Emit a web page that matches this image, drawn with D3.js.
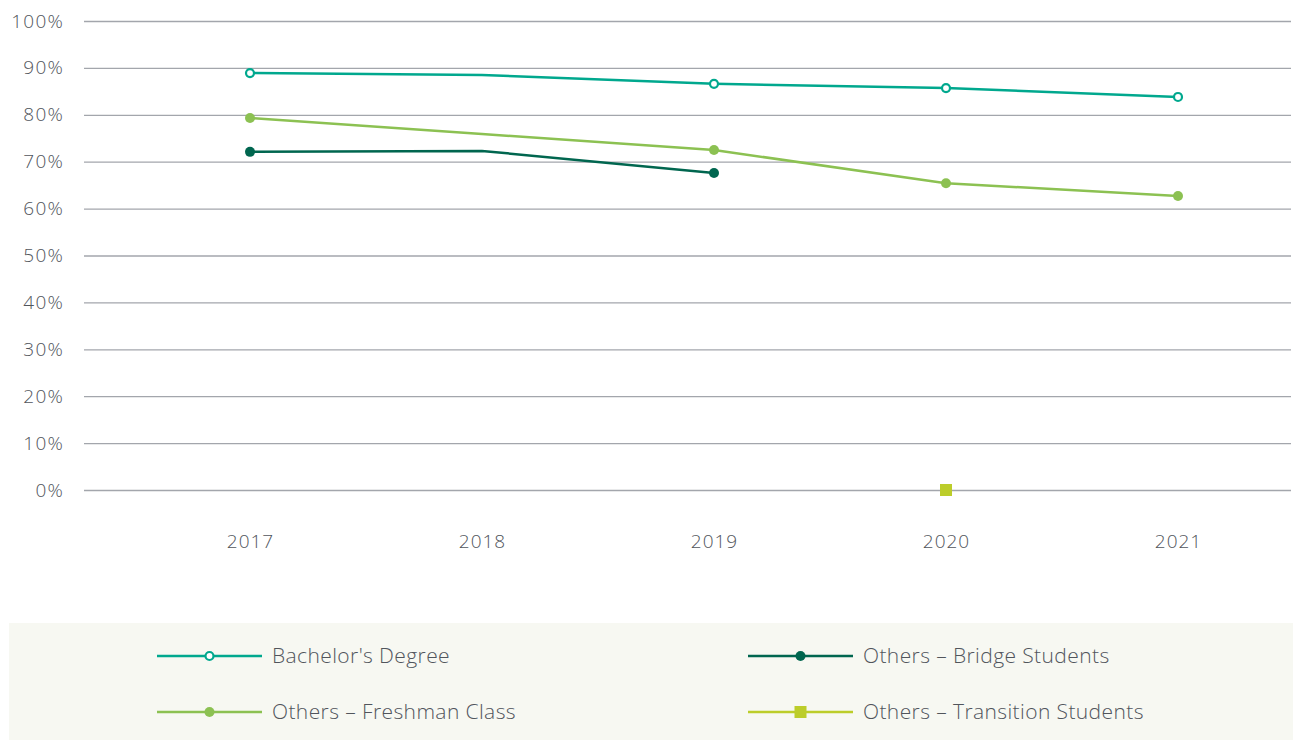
<!DOCTYPE html>
<html><head><meta charset="utf-8">
<script src="https://cdn.jsdelivr.net/npm/d3@7"></script>
<style>
body{margin:0;background:#fff;}
text{font-family:"Open Sans",Lato,sans-serif;font-weight:300;fill:#51555c;}
</style></head>
<body><svg id="c" width="1293" height="740"></svg>
<script>
const years = ["2017","2018","2019","2020","2021"];
const yTicks = [0,10,20,30,40,50,60,70,80,90,100];
const markerlessYears = ["2018"];
const bachelors = [88.9, 88.5, 86.6, 85.7, 83.8];
const bridge = [72.1, 72.3, 67.6, null, null];
const freshman = [79.3, 75.9, 72.5, 65.4, 62.7];
const transition = [null, null, null, 0, null];
const seriesNames = ["Bachelor's Degree","Others – Bridge Students","Others – Freshman Class","Others – Transition Students"];

const series = [
  {name:seriesNames[0], values:bachelors, color:"#00a88e", marker:"open"},
  {name:seriesNames[1], values:bridge, color:"#00664f", marker:"dot"},
  {name:seriesNames[2], values:freshman, color:"#8cc152", marker:"dot"},
  {name:seriesNames[3], values:transition, color:"#bccd2a", marker:"square"}
];

const svg = d3.select("#c");
const x = d3.scalePoint().domain(years).range([250,1178]);
const y = d3.scaleLinear().domain([0,100]).range([490,21]);

const yAxis = d3.axisLeft(y).tickValues(yTicks).tickFormat(d=>d+"%").tickSize(-(1291-84)).tickPadding(20);
const gy = svg.append("g").attr("transform","translate(84,0)").call(yAxis);
gy.select(".domain").remove();
gy.selectAll(".tick line").attr("stroke","#a3a6ac").attr("stroke-width",1.3);
gy.selectAll(".tick text").attr("font-size",19).attr("x",-20).style("letter-spacing","1.2px").style("fill","#51555c").style("font-family",'"Open Sans",sans-serif');

const xAxis = d3.axisBottom(x).tickSize(0).tickPadding(0);
const gx = svg.append("g").attr("transform","translate(0,548)").call(xAxis);
gx.select(".domain").remove();
gx.selectAll(".tick text").attr("font-size",19).attr("dy","0").style("letter-spacing","1px").style("fill","#51555c").style("font-family",'"Open Sans",sans-serif');

const line = d3.line().defined(d=>d.v!=null).x(d=>x(d.year)).y(d=>y(d.v));

function drawMarker(g, type, color, cx, cy){
  if(type==="open"){
    g.append("circle").attr("cx",cx).attr("cy",cy).attr("r",4).attr("fill","#fff").attr("stroke",color).attr("stroke-width",2.2);
  } else if(type==="dot"){
    g.append("circle").attr("cx",cx).attr("cy",cy).attr("r",5).attr("fill",color);
  } else {
    g.append("rect").attr("x",cx-6).attr("y",cy-6).attr("width",12).attr("height",12).attr("fill",color);
  }
}

series.forEach(s=>{
  const data = years.map((yr,i)=>({year:yr,v:s.values[i]}));
  svg.append("path").datum(data).attr("d",line).attr("fill","none").attr("stroke",s.color).attr("stroke-width",2.5);
  const g = svg.append("g");
  data.filter(d=>d.v!=null && !markerlessYears.includes(d.year)).forEach(d=>drawMarker(g,s.marker,s.color,x(d.year),y(d.v)));
});

svg.append("rect").attr("x",9).attr("y",623).attr("width",1284).attr("height",117).attr("fill","#f7f8f2");
const legendPos = [[157,656],[748,656],[157,712],[748,712]];
const legendOrder = [0,1,2,3];
legendOrder.forEach((si,k)=>{
  const s = series[si];
  const [lx,ly] = legendPos[k];
  const g = svg.append("g");
  g.append("line").attr("x1",lx).attr("x2",lx+105).attr("y1",ly).attr("y2",ly).attr("stroke",s.color).attr("stroke-width",2.5);
  drawMarker(g, s.marker, s.color, lx+52.5, ly);
  g.append("text").attr("x",lx+115).attr("y",ly).attr("dy","0.35em").attr("font-size",21).style("letter-spacing","0.4px").text(s.name);
});
</script></body></html>
